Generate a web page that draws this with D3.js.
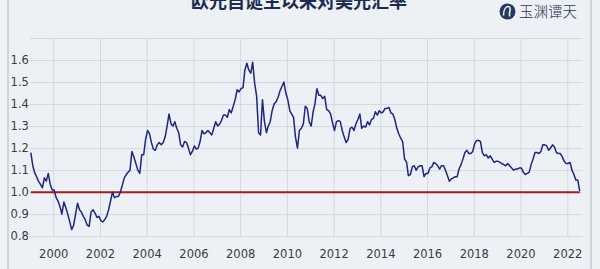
<!DOCTYPE html>
<html>
<head>
<meta charset="utf-8">
<script src="https://cdn.jsdelivr.net/npm/d3@7"></script>
<style>
	body { margin: 0; background: #edf1f5; }
	svg { display: block; }
	.tick text { font-family: "DejaVu Sans", sans-serif; font-size: 11.5px; fill: #383c42; }
	.grid line { stroke: #d3d8de; stroke-width: 1; }
</style>
</head>
<body>
<svg id="chart"></svg>
<script>
// EUR/USD, one value per month (mid-month)
const years = [1999,2000,2001,2002,2003,2004,2005,2006,2007,2008,2009,2010,2011,2012,2013,2014,2015,2016,2017,2018,2019,2020,2021,2022];
const rateRows = [
	[1.18, 1.12, 1.09, 1.07, 1.05, 1.035, 1.02, 1.065, 1.05, 1.085, 1.035, 1.01],
	[1.01, 0.975, 0.96, 0.935, 0.90, 0.955, 0.93, 0.90, 0.865, 0.83, 0.85, 0.90],
	[0.95, 0.92, 0.91, 0.89, 0.875, 0.85, 0.845, 0.91, 0.92, 0.905, 0.885, 0.89],
	[0.87, 0.865, 0.875, 0.89, 0.92, 0.96, 1.0, 0.975, 0.98, 0.98, 1.0, 1.03],
	[1.065, 1.08, 1.09, 1.10, 1.185, 1.16, 1.13, 1.10, 1.085, 1.17, 1.17, 1.24],
	[1.28, 1.265, 1.225, 1.195, 1.19, 1.215, 1.225, 1.215, 1.225, 1.25, 1.30, 1.355],
	[1.31, 1.30, 1.32, 1.29, 1.27, 1.215, 1.205, 1.23, 1.225, 1.20, 1.17, 1.185],
	[1.21, 1.195, 1.20, 1.23, 1.28, 1.265, 1.27, 1.28, 1.27, 1.26, 1.29, 1.32],
	[1.30, 1.31, 1.325, 1.35, 1.35, 1.34, 1.375, 1.36, 1.39, 1.42, 1.465, 1.455],
	[1.47, 1.475, 1.555, 1.585, 1.555, 1.54, 1.59, 1.495, 1.435, 1.27, 1.26, 1.42],
	[1.32, 1.27, 1.30, 1.32, 1.37, 1.40, 1.41, 1.43, 1.46, 1.48, 1.50, 1.45],
	[1.42, 1.37, 1.355, 1.34, 1.25, 1.20, 1.28, 1.29, 1.31, 1.39, 1.38, 1.32],
	[1.30, 1.365, 1.40, 1.47, 1.44, 1.44, 1.425, 1.435, 1.375, 1.37, 1.355, 1.315],
	[1.28, 1.32, 1.325, 1.32, 1.28, 1.25, 1.225, 1.24, 1.29, 1.295, 1.28, 1.31],
	[1.33, 1.355, 1.29, 1.30, 1.295, 1.32, 1.305, 1.33, 1.335, 1.365, 1.35, 1.37],
	[1.36, 1.365, 1.38, 1.38, 1.385, 1.36, 1.355, 1.33, 1.29, 1.265, 1.245, 1.23],
	[1.15, 1.135, 1.075, 1.08, 1.115, 1.12, 1.10, 1.115, 1.12, 1.12, 1.07, 1.085],
	[1.085, 1.11, 1.115, 1.135, 1.13, 1.12, 1.105, 1.12, 1.12, 1.10, 1.075, 1.05],
	[1.06, 1.065, 1.07, 1.07, 1.105, 1.125, 1.15, 1.18, 1.19, 1.175, 1.175, 1.185],
	[1.22, 1.235, 1.235, 1.23, 1.18, 1.165, 1.17, 1.155, 1.165, 1.15, 1.135, 1.14],
	[1.14, 1.135, 1.13, 1.125, 1.12, 1.13, 1.12, 1.11, 1.10, 1.105, 1.105, 1.11],
	[1.11, 1.09, 1.08, 1.085, 1.09, 1.125, 1.15, 1.18, 1.18, 1.175, 1.185, 1.215],
	[1.215, 1.21, 1.19, 1.20, 1.215, 1.205, 1.18, 1.175, 1.175, 1.16, 1.14, 1.13],
	[1.13, 1.135, 1.10, 1.08, 1.055, 1.055, 1.005]
];
const xTickYears = [2000,2002,2004,2006,2008,2010,2012,2014,2016,2018,2020,2022];
const yTicks = [0.8, 0.9, 1.0, 1.1, 1.2, 1.3, 1.4, 1.5, 1.6, 1.7];
const yLabels = [0.8, 0.9, 1.0, 1.1, 1.2, 1.3, 1.4, 1.5, 1.6];
const parity = 1.0;
const title = "欧元自诞生以来对美元汇率";
const brand = "玉渊谭天";

const svgWidth = 600, svgHeight = 269;
const svg = d3.select("#chart").attr("width", svgWidth).attr("height", svgHeight);

// flatten rows into dated points
const data = [];
rateRows.forEach((row, i) => row.forEach((v, m) => data.push({date: new Date(years[i], m, 15), value: v})));

const x = d3.scaleTime()
	.domain([new Date(1999, 0, 1), new Date(2022, 8, 1)])
	.range([29.9, 582.8]);
const y = d3.scaleLinear()
	.domain([0.8, 1.7])
	.range([236.2, 38]);

// frame lines of the screenshot
svg.append("g").selectAll("line")
	.data([8, 591])
	.enter().append("line")
	.attr("x1", d => d).attr("x2", d => d)
	.attr("y1", 0).attr("y2", svgHeight)
	.style("stroke", "#b3b8bf").style("stroke-width", 1);

// horizontal grid + y labels
const yAxis = svg.append("g")
	.attr("class", "grid")
	.attr("transform", "translate(" + x.range()[0] + ",0)")
	.call(d3.axisLeft(y).tickValues(yTicks).tickSize(-(x.range()[1] - x.range()[0])).tickPadding(1)
		.tickFormat(d => yLabels.includes(d) ? d3.format(".1f")(d) : ""));
yAxis.select(".domain").remove();

// vertical grid + year labels
const xAxis = svg.append("g")
	.attr("class", "grid")
	.attr("transform", "translate(0," + y.range()[0] + ")")
	.call(d3.axisBottom(x).tickValues(xTickYears.map(d => new Date(d, 0, 1)))
		.tickSize(-(y.range()[0] - y.range()[1])).tickPadding(13.6).tickFormat(d3.timeFormat("%Y")));
xAxis.select(".domain").remove();

// parity line
const ext = d3.extent(data, d => d.date);
svg.append("line")
	.attr("x1", x(ext[0])).attr("x2", x(ext[1]))
	.attr("y1", y(parity)).attr("y2", y(parity))
	.style("stroke", "#a31c1f").style("stroke-width", 2);

// rate line
const line = d3.line().x(d => x(d.date)).y(d => y(d.value));
svg.append("path")
	.datum(data)
	.attr("d", line)
	.style("fill", "none")
	.style("stroke", "#20267e")
	.style("stroke-width", 1.5)
	.style("stroke-linejoin", "round");

// title (cut off at the top like the source)
svg.append("text")
	.attr("x", 299).attr("y", 8)
	.attr("text-anchor", "middle")
	.style("font-family", "'Noto Sans CJK SC', sans-serif")
	.style("font-weight", "bold")
	.style("font-size", "18px")
	.style("fill", "#1d2b4f")
	.text(title);

// brand mark
const logo = svg.append("g").attr("transform", "translate(507.5,11.5)");
logo.append("circle").attr("r", 8).style("fill", "#253a5c");
logo.append("path")
	.attr("d", "M-4,4 C-4,-3 -1,-5 1,-5 C3,-5 3,-2 2,1 L2,5")
	.style("fill", "none").style("stroke", "#edf1f5").style("stroke-width", 1.6);
svg.append("text")
	.attr("x", 519).attr("y", 17)
	.style("font-family", "'Noto Sans CJK SC', sans-serif")
	.style("font-weight", "300")
	.style("font-size", "14.5px")
	.style("fill", "#2a3550")
	.text(brand);
</script>
</body>
</html>
